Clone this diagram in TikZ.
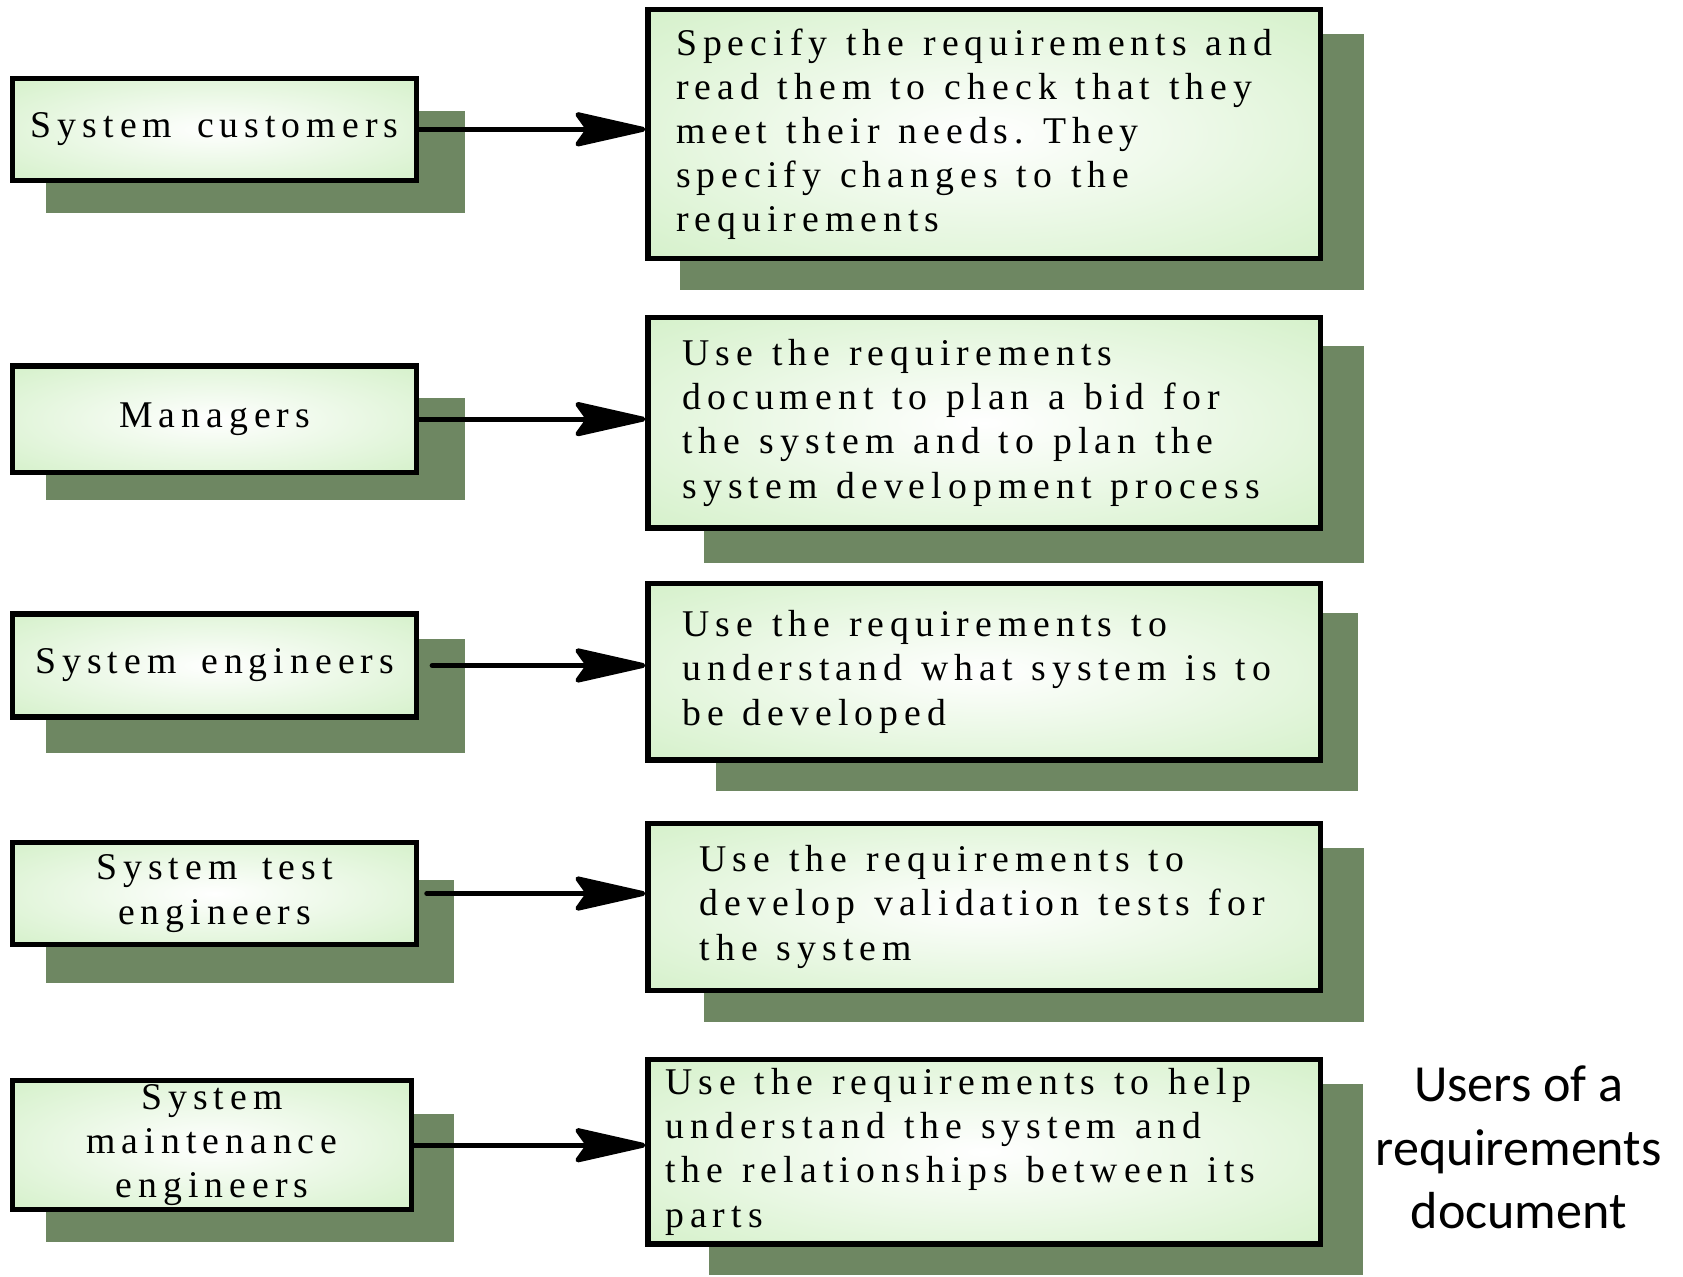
\documentclass[tikz,border=0pt]{standalone}
\usepackage{tikz}
\usetikzlibrary{calc}
\usetikzlibrary{arrows.meta}
\usepackage{fontspec}
\setmainfont{Liberation Serif}[LetterSpace=16,WordSpace=1.6]
\newfontfamily\calibri{Carlito}
\usepackage{color}
\definecolor{paleleaf}{RGB}{208, 239, 196}
\definecolor{moss}{RGB}{110, 135, 98}
\pgfdeclareradialshading{glow}{\pgfpoint{0bp}{0bp}}{color(0bp)=(white); color(40bp)=(paleleaf); color(50bp)=(paleleaf)}

\tikzset{
    user/.style     = {draw=black, line width=1.4pt, shade, shading=glow, align=center,
                       inner sep=0pt, minimum width=3.76cm, font=\fontsize{10}{11.7}\selectfont},
    task/.style     = {draw=black, line width=1.4pt, shade, shading=glow, align=left,
                       inner xsep=0.05cm, inner ysep=0pt, text width=6.16cm,
                       font=\fontsize{10}{11.7}\selectfont},
    textleft/.style = {execute at begin node={\leftskip=#1\spaceskip=0.5em\relax}},
    feeds/.style    = {-{Stealth[length=0.76cm, width=0.34cm, inset=0.12cm, round]},
                       line width=1.3pt, line cap=round}
}

\begin{document}
\begin{tikzpicture}[x=0.01cm, y=-0.01cm]
            \useasboundingbox (0,0) rectangle (1568,1189);
            % shadows
            \fill[moss] ( 43, 103) rectangle ( 433, 198);
            \fill[moss] ( 43, 371) rectangle ( 433, 466);
            \fill[moss] ( 43, 595) rectangle ( 433, 702);
            \fill[moss] ( 43, 820) rectangle ( 423, 916);
            \fill[moss] ( 43,1038) rectangle ( 423,1157);
            \fill[moss] (634,  32) rectangle (1271, 270);
            \fill[moss] (656, 322) rectangle (1271, 525);
            \fill[moss] (667, 571) rectangle (1265, 737);
            \fill[moss] (656, 790) rectangle (1271, 952);
            \fill[moss] (661,1010) rectangle (1270,1188);

            % users
            \node[user, minimum height=0.95cm]                     (customers)   at (200, 120.5) {System customers};
            \node[user, minimum height=0.99cm]                     (managers)    at (200, 390.5) {Managers};
            \node[user, minimum height=0.96cm]                     (sysEng)      at (200, 620)   {System engineers};
            \node[user, minimum height=0.95cm]                     (testEng)     at (200, 832.5) {System test\\ engineers};
            \node[user, minimum height=1.20cm, minimum width=3.71cm] (maintEng)  at (197.5,1067) {System\\ maintenance\\ engineers};

            % what they do with it
            \node[task, textleft=0.21cm, minimum height=2.32cm] (customersUse) at (917, 125)
                 {Specify the requirements and\\ read them to check that they\\ meet their needs. They\\ specify changes to the\\ requirements};
            \node[task, textleft=0.27cm, minimum height=1.96cm] (managersUse)  at (917, 394)
                 {Use the requirements\\ document to plan a bid for\\ the system and to plan the\\ system development process};
            \node[task, textleft=0.27cm, minimum height=1.64cm] (sysEngUse)    at (917, 626)
                 {Use the requirements to\\ understand what system is to\\ be developed};
            \node[task, textleft=0.43cm, minimum height=1.56cm] (testEngUse)   at (917, 845)
                 {Use the requirements to\\ develop validation tests for\\ the system};
            \node[task, textleft=0.11cm, minimum height=1.72cm] (maintEngUse)  at (917,1073)
                 {Use the requirements to help\\ understand the system and\\ the relationships between its\\ parts};

            \node[font=\calibri\fontsize{13.8}{16.8}\selectfont, align=center] (caption) at (1415,1069)
                 {Users of a\\ requirements\\ document};

            % arrows
            \draw[feeds]                   (customers.east) -- (customers.east -| customersUse.west);
            \draw[feeds]                   (managers.east)  -- (managers.east  -| managersUse.west);
            \draw[feeds, shorten <=0.12cm] (sysEng.east)    -- (sysEng.east    -| sysEngUse.west);
            \draw[feeds, shorten <=0.07cm] (testEng.east)   -- (testEng.east   -| testEngUse.west);
            \draw[feeds]                   (maintEng.east)  -- (maintEng.east  -| maintEngUse.west);
\end{tikzpicture}
\end{document}
